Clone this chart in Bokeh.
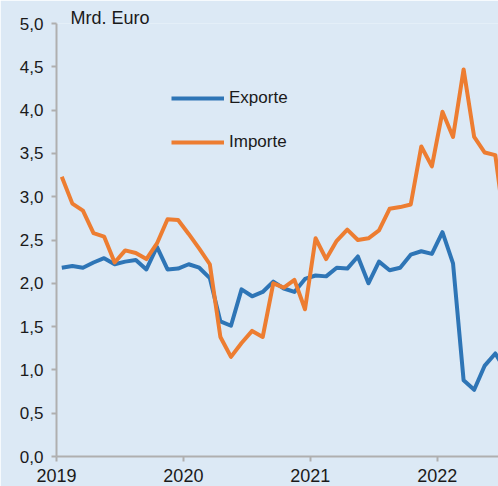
from bokeh.plotting import figure
from bokeh.models import Range1d, FixedTicker, Legend, LegendItem
from bokeh.embed import file_html
from bokeh.resources import INLINE

# Monthly values, January 2019 onwards (Mrd. Euro)
exporte = [2.18, 2.20, 2.18, 2.24, 2.29, 2.22, 2.25, 2.27, 2.16, 2.42, 2.16, 2.17,
           2.22, 2.18, 2.06, 1.56, 1.51, 1.93, 1.85, 1.90, 2.02, 1.94, 1.90, 2.05,
           2.09, 2.08, 2.18, 2.17, 2.31, 2.00, 2.25, 2.15, 2.18, 2.33, 2.37, 2.34,
           2.59, 2.23, 0.88, 0.77, 1.05, 1.19, 0.99]
importe = [3.23, 2.92, 2.84, 2.58, 2.54, 2.24, 2.38, 2.35, 2.28, 2.46, 2.74, 2.73,
           2.57, 2.40, 2.22, 1.38, 1.15, 1.31, 1.45, 1.38, 2.00, 1.95, 2.04, 1.70,
           2.52, 2.28, 2.49, 2.62, 2.50, 2.52, 2.61, 2.86, 2.88, 2.91, 3.58, 3.35,
           3.98, 3.69, 4.47, 3.69, 3.51, 3.48, 2.55]
year_ticks = [0, 12, 24, 36]          # month offsets from Jan 2019
year_labels = ["2019", "2020", "2021", "2022"]
y_ticks = [0.0, 0.5, 1.0, 1.5, 2.0, 2.5, 3.0, 3.5, 4.0, 4.5, 5.0]
y_labels = ["0,0", "0,5", "1,0", "1,5", "2,0", "2,5", "3,0", "3,5", "4,0", "4,5", "5,0"]
series_names = ["Exporte", "Importe"]
unit_text = "Mrd. Euro"

BG = "#dce9f5"
BLUE = "#2e75b6"
ORANGE = "#ed7d31"
FONT = "Liberation Sans"

x = [i + 0.5 for i in range(len(exporte))]

p = figure(width=498, height=486, output_backend="svg", toolbar_location=None,
           x_range=Range1d(0, 41.8), y_range=Range1d(0, 5.0),
           min_border_left=56, min_border_right=0, min_border_top=23, min_border_bottom=30)
p.background_fill_color = BG
p.border_fill_color = BG
p.outline_line_color = None
p.xgrid.visible = False
p.ygrid.visible = False

p.title.text = unit_text
p.title.align = "left"
p.title.offset = 14
p.title.standoff = -9
p.title.vertical_align = "bottom"
p.title.text_font = FONT
p.title.text_font_size = "18px"
p.title.text_font_style = "normal"
p.title.text_color = "#1a1a1a"

r_exp = p.line(x, exporte, line_color=BLUE, line_width=4, line_join="round")
r_imp = p.line(x, importe, line_color=ORANGE, line_width=4, line_join="round")

for ax in (p.xaxis[0], p.yaxis[0]):
    ax.axis_line_color = "#afafaf"
    ax.axis_line_width = 2
    ax.major_tick_line_color = "#afafaf"
    ax.major_tick_line_width = 2
    ax.major_tick_out = 5
    ax.major_tick_in = 0
    ax.minor_tick_line_color = None
    ax.major_label_text_font = FONT
    ax.major_label_text_font_size = "17px"
    ax.major_label_text_color = "#1a1a1a"

p.yaxis.ticker = FixedTicker(ticks=y_ticks)
p.yaxis.major_label_overrides = {t: l for t, l in zip(y_ticks, y_labels)}
p.yaxis.major_label_standoff = 8
p.xaxis.ticker = FixedTicker(ticks=year_ticks)
p.xaxis.major_label_overrides = {t: l for t, l in zip(year_ticks, year_labels)}
p.xaxis.major_label_text_font_size = "18px"
p.xaxis.major_label_standoff = 7

legend = Legend(items=[LegendItem(label=series_names[0], renderers=[r_exp]),
                       LegendItem(label=series_names[1], renderers=[r_imp])],
                location=(115, 304), orientation="vertical",
                glyph_width=53, glyph_height=20, label_height=20, label_standoff=5,
                spacing=24, padding=0, margin=0,
                border_line_color=None, background_fill_alpha=0,
                label_text_font=FONT, label_text_font_size="17px", label_text_color="#1a1a1a")
p.add_layout(legend)

html = file_html(p, INLINE)
html = html.replace("<body>", '<body style="background-color:%s;">' % BG, 1)
open("out.html", "w").write(html)
